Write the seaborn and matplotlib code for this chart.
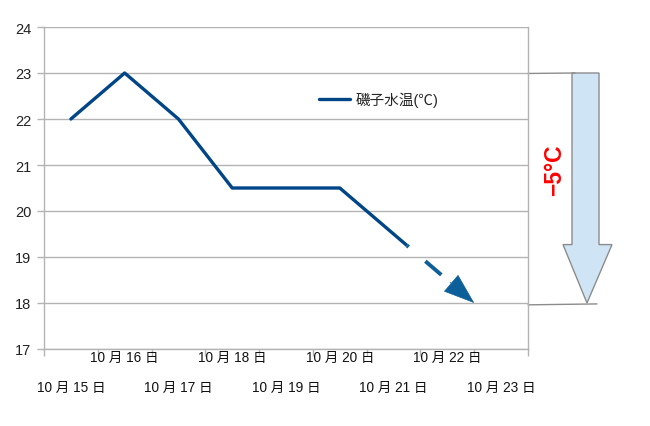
import numpy as np
import pandas as pd
import matplotlib
matplotlib.use("Agg")
import matplotlib.pyplot as plt
import seaborn as sns
from matplotlib.patches import Polygon, FancyArrowPatch
import matplotlib.transforms as mtransforms

# ---- data ----
dates = ["10 月 15 日", "10 月 16 日", "10 月 17 日", "10 月 18 日", "10 月 19 日",
         "10 月 20 日", "10 月 21 日", "10 月 22 日", "10 月 23 日"]
temps = [22, 23, 22, 20.5, 20.5, 20.5]
forecast_x = [5, 6.25, 7.05, 7.5]
forecast_y = [20.5, 19.25, 18.45, 18.0]
y_ticks = [17, 18, 19, 20, 21, 22, 23, 24]
drop_from, drop_to = 23, 18
series_label = "磯子水温(℃)"
drop_label = "−5°C"

sns.set_theme(style="white")
plt.rcParams["font.family"] = ["Liberation Sans", "Noto Sans CJK JP", "DejaVu Sans"]
plt.rcParams["lines.scale_dashes"] = False

W, H = 650, 427
fig = plt.figure(figsize=(W / 100, H / 100), dpi=100)
ax = fig.add_axes([44 / W, 77 / H, 484 / W, 322 / H])

main_color = "#004586"
fc_color = "#0d5f99"
grid_color = "#b3b3b3"

df = pd.DataFrame({"x": np.arange(len(temps)), "temp": temps, "series": series_label})
sns.lineplot(data=df, x="x", y="temp", hue="series", palette=[main_color],
             linewidth=2.4, ax=ax)

# forecast: solid continuation, dashed part, arrow head
ax.plot(forecast_x[:2], forecast_y[:2], color=main_color, lw=2.4, solid_capstyle="butt")
ax.plot(forecast_x[1:3], forecast_y[1:3], color=fc_color, lw=2.8,
        linestyle=(13.5, (15.1, 15.8)), dash_capstyle="butt")
head = FancyArrowPatch(posA=(forecast_x[2], forecast_y[2]), posB=(forecast_x[3], forecast_y[3]),
                       arrowstyle="-|>,head_length=21,head_width=7.5", mutation_scale=1,
                       color=fc_color, lw=0.5, shrinkA=0, shrinkB=0)
ax.add_patch(head)

# axes styling
ax.set_xlim(-0.5, len(dates) - 0.5)
ax.set_ylim(min(y_ticks), max(y_ticks))
ax.set_yticks(y_ticks)
ax.set_yticklabels([str(v) for v in y_ticks], fontsize=10.5, color="#222222")
ax.yaxis.grid(True, color=grid_color, lw=1)
ax.xaxis.grid(False)
ax.set_xlabel("")
ax.set_ylabel("")
ax.tick_params(axis="y", length=5, width=1, color=grid_color, pad=4, left=True)

ax.set_xticks(np.arange(len(dates) + 1) - 0.5)
ax.set_xticklabels([])
ax.tick_params(axis="x", which="major", length=5, width=1, color=grid_color, bottom=True)
xtr = mtransforms.blended_transform_factory(ax.transData, ax.transAxes)
for i, d in enumerate(dates):
    yy = -38 / 322 if i % 2 == 0 else -8 / 322
    ax.text(i, yy, d, transform=xtr, ha="center", va="center", fontsize=9.8,
            color="#111111", clip_on=False)

for s in ["left", "bottom", "right"]:
    ax.spines[s].set_color(grid_color)
    ax.spines[s].set_linewidth(1)
ax.spines["top"].set_visible(False)

# legend
ax.legend(loc="center left", bbox_to_anchor=(319 / W, 1 - 100 / H),
          bbox_transform=fig.transFigure, frameon=False, fontsize=10.5,
          handlelength=2.1, handletextpad=0.4, borderpad=0, borderaxespad=0)

# big drop arrow outside the axes
tr = mtransforms.blended_transform_factory(ax.transAxes, ax.transData)
def axx(px):
    return (px - 44) / 484
head_base = drop_to + 1.27
arrow = Polygon([(axx(572), drop_from), (axx(599), drop_from), (axx(599), head_base),
                 (axx(612), head_base), (axx(587), drop_to), (axx(563), head_base),
                 (axx(572), head_base)], closed=True, transform=tr, clip_on=False,
                facecolor="#cfe4f4", edgecolor="#8c8c8c", lw=1)
ax.add_patch(arrow)
ax.plot([1.0, axx(575)], [drop_from - 0.01, drop_from], transform=tr, clip_on=False,
        color="#8c8c8c", lw=1)
ax.plot([1.0, axx(597)], [drop_to - 0.04, drop_to - 0.02], transform=tr, clip_on=False,
        color="#8c8c8c", lw=1)
ax.text(axx(555), 20.9, drop_label, transform=tr, rotation=90, ha="center", va="center",
        color="#ff0000", fontsize=16.5, fontweight="bold", clip_on=False)

fig.savefig("out.png", dpi=100)
